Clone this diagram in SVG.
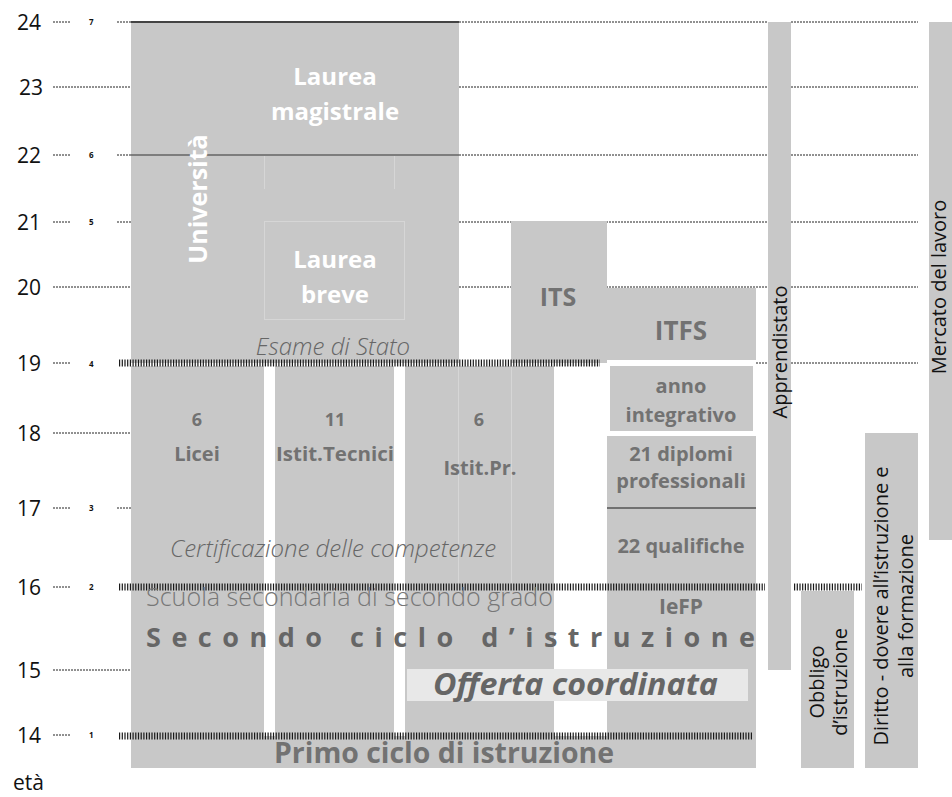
<svg xmlns="http://www.w3.org/2000/svg" width="952" height="797" viewBox="0 0 952 797">
<style>
.box{fill:#c8c8c8}
.grid{stroke:#222;stroke-width:1;stroke-dasharray:2 1}
.hatch{stroke:#1a1a1a;stroke-width:7;stroke-dasharray:1.2 1.5}
.faint{stroke:#d6d6d6;stroke-width:1;fill:none}
.age{font-family:"Open Sans",sans-serif;font-size:21px;fill:#111}
.sm{font-family:"Open Sans",sans-serif;font-size:8px;font-weight:bold;fill:#111}
.lb{font-family:"Open Sans",sans-serif;font-weight:bold;fill:#727272;text-anchor:middle}
.wh{font-family:"Open Sans",sans-serif;font-weight:bold;fill:#ffffff;text-anchor:middle}
.it{font-family:"Open Sans",sans-serif;font-style:italic;font-weight:300;fill:#666;text-anchor:middle}
.vt{font-family:"Open Sans",sans-serif;font-size:20px;fill:#111;text-anchor:middle}
</style>
<g id="grid">
  <line class="grid" x1="53" y1="22" x2="70" y2="22"/><line class="grid" x1="117" y1="22" x2="132" y2="22"/>
  <line class="grid" x1="53" y1="87" x2="132" y2="87"/>
  <line class="grid" x1="53" y1="155" x2="70" y2="155"/><line class="grid" x1="117" y1="155" x2="132" y2="155"/>
  <line class="grid" x1="53" y1="222" x2="70" y2="222"/><line class="grid" x1="117" y1="222" x2="132" y2="222"/>
  <line class="grid" x1="53" y1="287" x2="132" y2="287"/>
  <line class="grid" x1="53" y1="363" x2="70" y2="363"/>
  <line class="grid" x1="53" y1="433" x2="132" y2="433"/>
  <line class="grid" x1="53" y1="508" x2="70" y2="508"/><line class="grid" x1="117" y1="508" x2="132" y2="508"/>
  <line class="grid" x1="53" y1="587" x2="70" y2="587"/>
  <line class="grid" x1="53" y1="670" x2="132" y2="670"/>
  <line class="grid" x1="53" y1="735" x2="70" y2="735"/>
  <line class="grid" x1="459" y1="22" x2="768" y2="22"/><line class="grid" x1="791" y1="22" x2="918" y2="22"/>
  <line class="grid" x1="459" y1="87" x2="768" y2="87"/><line class="grid" x1="791" y1="87" x2="918" y2="87"/>
  <line class="grid" x1="459" y1="155" x2="768" y2="155"/><line class="grid" x1="791" y1="155" x2="918" y2="155"/>
  <line class="grid" x1="459" y1="222" x2="768" y2="222"/><line class="grid" x1="791" y1="222" x2="918" y2="222"/>
  <line class="grid" x1="459" y1="287" x2="768" y2="287"/><line class="grid" x1="791" y1="287" x2="918" y2="287"/>
  <line class="grid" x1="756" y1="363" x2="768" y2="363"/><line class="grid" x1="791" y1="363" x2="918" y2="363"/>
</g>
<g id="axis">
  <text class="age" x="17" y="30">24</text>
  <text class="age" x="19" y="95">23</text>
  <text class="age" x="17" y="163">22</text>
  <text class="age" x="17" y="230">21</text>
  <text class="age" x="17" y="295">20</text>
  <text class="age" x="17" y="371">19</text>
  <text class="age" x="17" y="441">18</text>
  <text class="age" x="17" y="516">17</text>
  <text class="age" x="17" y="595">16</text>
  <text class="age" x="17" y="678">15</text>
  <text class="age" x="17" y="743">14</text>
  <text class="age" x="13" y="790">età</text>
  <text class="sm" x="89" y="25">7</text>
  <text class="sm" x="89" y="158">6</text>
  <text class="sm" x="89" y="225">5</text>
  <text class="sm" x="89" y="367">4</text>
  <text class="sm" x="89" y="511">3</text>
  <text class="sm" x="89" y="590">2</text>
  <text class="sm" x="89" y="738">1</text>
</g>
<g id="universita">
  <rect class="box" x="131" y="22" width="328" height="341"/>
  <line x1="131" y1="22" x2="459" y2="22" stroke="#444" stroke-width="2"/>
  <line x1="131" y1="155" x2="459" y2="155" stroke="#333" stroke-width="1.2"/>
  <line class="faint" x1="264.5" y1="156" x2="264.5" y2="189"/>
  <line class="faint" x1="394.5" y1="156" x2="394.5" y2="189"/>
  <rect class="faint" x="264.5" y="221.5" width="140" height="98"/>
  <text class="wh" font-size="25" transform="translate(207,199) rotate(-90)">Università</text>
  <text class="wh" font-size="24" x="335" y="85">Laurea</text>
  <text class="wh" font-size="24" x="335" y="120">magistrale</text>
  <text class="wh" font-size="24" x="335" y="268">Laurea</text>
  <text class="wh" font-size="24" x="335" y="303">breve</text>
  <text class="it" font-size="24" x="333" y="355">Esame di Stato</text>
</g>
<g id="licei">
  <rect class="box" x="131" y="366" width="133" height="370"/>
  <text class="lb" font-size="18" x="197" y="426">6</text>
  <text class="lb" font-size="20" x="197" y="461">Licei</text>
</g>
<g id="tecnici">
  <rect class="box" x="275" y="366" width="119" height="370"/>
  <text class="lb" font-size="18" x="335" y="426">11</text>
  <text class="lb" font-size="20" x="335" y="461" textLength="118" lengthAdjust="spacingAndGlyphs">Istit.Tecnici</text>
</g>
<g id="professionali">
  <rect class="box" x="405" y="366" width="149" height="370"/>
  <line class="faint" x1="458.5" y1="366" x2="458.5" y2="583"/>
  <line class="faint" x1="511.5" y1="366" x2="511.5" y2="583"/>
  <text class="lb" font-size="18" x="479" y="426">6</text>
  <text class="lb" font-size="20" x="480" y="475">Istit.Pr.</text>
</g>
<g id="its">
  <rect class="box" x="511" y="221" width="96" height="142"/>
  <text class="lb" font-size="25" x="558" y="306">ITS</text>
</g>
<g id="itfs">
  <rect class="box" x="607" y="288" width="149" height="72"/>
  <text class="lb" font-size="26" x="681" y="340">ITFS</text>
</g>
<g id="anno-integrativo">
  <rect class="box" x="610" y="366" width="143" height="65"/>
  <text class="lb" font-size="20" x="681" y="393">anno</text>
  <text class="lb" font-size="20" x="681" y="422">integrativo</text>
</g>
<g id="iefp">
  <rect class="box" x="607" y="436" width="149" height="300"/>
  <line x1="607" y1="508" x2="756" y2="508" stroke="#555" stroke-width="1.5"/>
  <text class="lb" font-size="20" x="681" y="461">21 diplomi</text>
  <text class="lb" font-size="20" x="681" y="488">professionali</text>
  <text class="lb" font-size="20" x="681" y="553">22 qualifiche</text>
  <text class="lb" font-size="21" x="681" y="614">IeFP</text>
</g>
<g id="primo-ciclo">
  <rect class="box" x="131" y="736" width="625" height="32"/>
  <text class="lb" font-size="28" x="444" y="763" fill="#6b6b6b" textLength="340" lengthAdjust="spacingAndGlyphs">Primo ciclo di istruzione</text>
</g>
<g id="apprendistato">
  <rect class="box" x="768" y="22" width="23" height="648"/>
  <text class="vt" font-size="21" transform="translate(787,352) rotate(-90)">Apprendistato</text>
</g>
<g id="mercato">
  <rect class="box" x="929" y="22" width="23" height="518"/>
  <text class="vt" font-size="20.5" transform="translate(946,287) rotate(-90)">Mercato del lavoro</text>
</g>
<g id="obbligo">
  <rect class="box" x="801" y="591" width="53" height="177"/>
  <text class="vt" transform="translate(824,682) rotate(-90)">Obbligo</text>
  <text class="vt" transform="translate(847,682) rotate(-90)">d’istruzione</text>
</g>
<g id="diritto">
  <rect class="box" x="865" y="433" width="53" height="335"/>
  <text class="vt" transform="translate(888,606) rotate(-90)">Diritto - dovere all’istruzione e</text>
  <text class="vt" transform="translate(913,606) rotate(-90)">alla formazione</text>
</g>
<g id="hatch-lines">
  <line class="hatch" x1="119" y1="363" x2="600" y2="363"/>
  <line class="hatch" x1="119" y1="587" x2="765" y2="587"/>
  <line class="hatch" x1="794" y1="587" x2="862" y2="587"/>
  <line class="hatch" x1="119" y1="736" x2="753" y2="736"/>
</g>
<g id="labels">
  <text class="it" font-size="24" x="333" y="557">Certificazione delle competenze</text>
  <text font-family="Open Sans, sans-serif" font-weight="300" font-size="26" fill="#777" x="146" y="606" textLength="407" lengthAdjust="spacingAndGlyphs">Scuola  secondaria  di  secondo  grado</text>
  <text font-family="Open Sans, sans-serif" font-weight="bold" font-size="27" fill="#666" x="146" y="647" textLength="609" lengthAdjust="spacing">Secondo ciclo d’istruzione</text>
</g>
<g id="offerta">
  <rect x="407" y="669" width="341" height="32" fill="#e8e8e8"/>
  <text font-family="Open Sans, sans-serif" font-weight="bold" font-style="italic" font-size="31" fill="#666" x="433" y="695" textLength="285" lengthAdjust="spacingAndGlyphs">Offerta coordinata</text>
</g>
</svg>
